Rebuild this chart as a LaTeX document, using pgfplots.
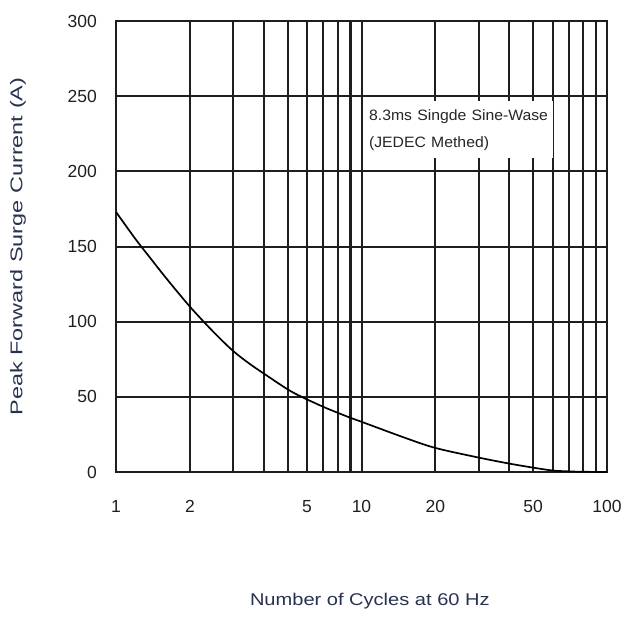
\documentclass[border=0pt]{standalone}
\usepackage{graphicx}
\usepackage{pgfplots}
\pgfplotsset{compat=1.18}
\usepackage{fontspec}
\setmainfont{Liberation Sans}
\definecolor{gridc}{RGB}{30,30,30}
\definecolor{lightg}{RGB}{185,185,185}
\definecolor{labc}{RGB}{40,50,80}
\begin{document}
\begin{tikzpicture}
\useasboundingbox (-116pt,-144.5pt) rectangle (511pt,472pt);
\begin{axis}[
  at={(0pt,0pt)}, anchor=south west,
  scale only axis, width=491pt, height=451pt,
  xmode=log, xmin=1, xmax=100, ymin=0, ymax=300,
  xtick={1,2,3,4,6,7,8,10,20,50,60,70,80,90,100},
  xticklabels={1,2,,,5,,,10,20,50,,,,,100},
  minor xtick={9},
  extra x ticks={5,30,40},
  extra x tick labels={},
  extra x tick style={grid style={lightg, line width=1.3pt}},
  ytick={0,50,...,300},
  major tick length=0pt, minor tick length=0pt,
  grid=both,
  major grid style={gridc, line width=2pt},
  minor grid style={gridc, line width=3pt},
  axis line style={gridc, line width=2.2pt},
  /pgf/number format/assume math mode=true,
  tick label style={font=\fontsize{17.5}{20}\selectfont, text=black!88},
  xticklabel style={inner sep=0pt, anchor=north, yshift=-28pt},
  yticklabel style={inner sep=0pt, anchor=east, xshift=-19pt},
  xlabel={\scalebox{1.18}[1]{Number of Cycles at 60 Hz}},
  ylabel={\scalebox{1.38}[1]{Peak Forward Surge Current (A)}},
  label style={font=\fontsize{17}{20}\selectfont, text=labc},
  xlabel style={at={(axis description cs:0.517,-0.287)}, anchor=center},
  ylabel style={at={(axis description cs:-0.1996,0.5)}, anchor=center},
]
\addplot[black, line width=1.7pt, smooth] coordinates {
  (1,173) (1.2,155) (1.4,141) (1.6,129) (2,110) (2.5,93) (3,80.5) (3.5,72) (4,65.5)
  (5,55) (5.7,50) (7,43.3) (8,39.4) (9,36.1) (10,33.4) (15,22.8) (20,16)
  (30,9.6) (40,5.6) (50,2.9) (60,1.0) (70,0.4) (80,0.15) (100,0)
};
\node[fill=white, inner sep=0pt, minimum width=187pt, minimum height=57pt,
      text width=181pt, align=left, font=\fontsize{15}{27}\selectfont, text=black!85]
  at (axis cs:25.1,227.5) {\scalebox{1.05}[1]{8.3ms Singde Sine-Wase}\\\scalebox{1.05}[1]{(JEDEC Methed)}};
\end{axis}
\end{tikzpicture}
\end{document}
